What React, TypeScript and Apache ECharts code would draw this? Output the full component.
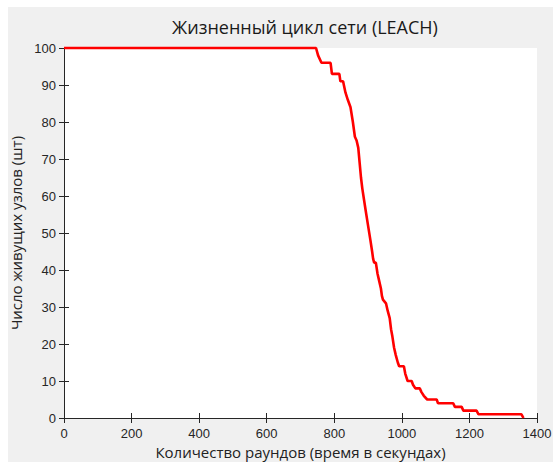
import React, { useEffect, useRef } from "react";
import * as echarts from "echarts";

const titleText = "Жизненный цикл сети (LEACH)";
const xName = "Количество раундов (время в секундах)";
const yName = "Число живущих узлов (шт)";

const rounds = [0, 746, 752, 762, 789, 793, 815, 818, 826, 833, 840, 848, 855, 861, 866, 871, 875, 879, 883, 888, 893, 900, 907, 912, 915, 918, 923, 928, 933, 938, 941, 944, 953, 958, 964, 968, 972, 977, 982, 988, 992, 1006, 1010, 1017, 1029, 1033, 1040, 1053, 1058, 1065, 1075, 1103, 1107, 1152, 1157, 1177, 1182, 1221, 1227, 1354, 1360];
const alive = [100, 100, 98, 96, 96, 93, 93, 91, 91, 88, 86, 84, 80, 76, 75, 73, 69, 65, 62, 59, 56, 52, 48, 45, 43, 42, 42, 39, 37, 35, 33, 32, 31, 29, 27, 24, 22, 19, 17, 15, 14, 14, 12, 10, 10, 9, 8, 8, 7, 6, 5, 5, 4, 4, 3, 3, 2, 2, 1, 1, 0];

export default function App() {
  const ref = useRef<HTMLDivElement>(null);
  useEffect(() => {
    if (!ref.current) return;
    document.body.style.margin = "0";
    document.body.style.overflow = "hidden";
    const chart = echarts.init(ref.current, undefined, { renderer: "svg" });
    const axisColor = "#262626";
    const labelFont = "'Liberation Sans', Arial, sans-serif";
    const nameFont = "'Open Sans', 'Noto Sans', sans-serif";
    const common = {
      axisLine: { show: true, lineStyle: { color: axisColor, width: 1 } },
      axisTick: { show: true, inside: true, length: 5, lineStyle: { color: axisColor } },
      splitLine: { show: false },
    };
    const plain = (v: number) => String(v);
    chart.setOption({
      animation: false,
      backgroundColor: "#ffffff",
      graphic: [
        { type: "rect", left: 8, top: 7, shape: { width: 545, height: 455 }, style: { fill: "#f0f0f0" }, z: -10, silent: true },
      ],
      title: {
        text: titleText,
        left: 300,
        top: 13,
        textAlign: "center",
        textStyle: { fontFamily: nameFont, fontSize: 18, fontWeight: "normal", color: "#1a1a1a" },
      },
      grid: { left: 64, top: 48, width: 473, height: 370, backgroundColor: "#fff", show: true, borderWidth: 0, outerBoundsMode: "none", containLabel: false },
      xAxis: [
        {
          type: "value", min: 0, max: 1400, interval: 200, position: "bottom",
          name: xName, nameLocation: "middle", nameGap: 26,
          nameTextStyle: { fontFamily: nameFont, fontSize: 15, color: "#222" },
          axisLabel: { fontFamily: labelFont, fontSize: 13, color: axisColor, margin: 9, formatter: plain, showMaxLabel: true },
          ...common,
        },
        {
          type: "value", min: 0, max: 1400, interval: 200, position: "top",
          axisLabel: { show: false }, ...common,
        },
      ],
      yAxis: [
        {
          type: "value", min: 0, max: 100, interval: 10, position: "left",
          name: yName, nameLocation: "middle", nameGap: 29, nameRotate: 90,
          nameTextStyle: { fontFamily: nameFont, fontSize: 15, color: "#222" },
          axisLabel: { fontFamily: labelFont, fontSize: 13, color: axisColor, margin: 8, formatter: plain },
          ...common,
        },
        {
          type: "value", min: 0, max: 100, interval: 10, position: "right",
          axisLabel: { show: false }, ...common,
        },
      ],
      series: [
        {
          type: "line",
          data: rounds.map((r, i) => [r, alive[i]]),
          showSymbol: false,
          lineStyle: { color: "#ff0000", width: 2.6 },
          itemStyle: { color: "#ff0000" },
          clip: false,
        },
      ],
    });
    return () => chart.dispose();
  }, []);
  return <div ref={ref} style={{ width: 553, height: 462 }} />;
}
